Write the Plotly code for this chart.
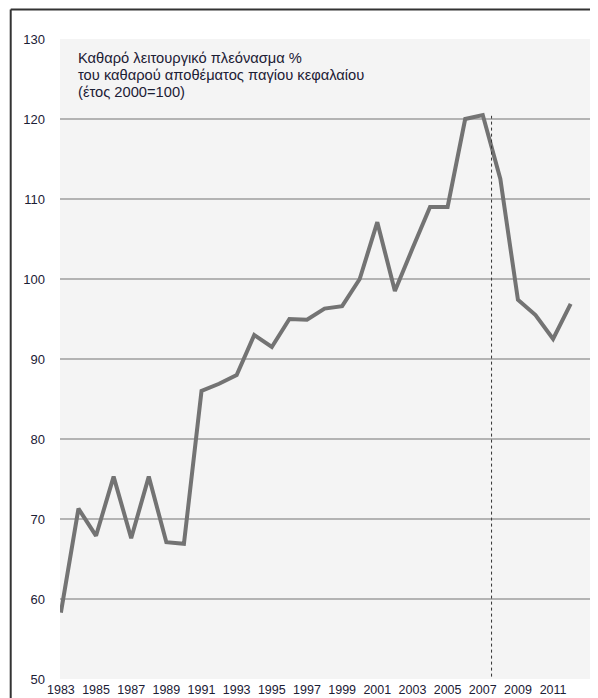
import plotly.graph_objects as go

years = list(range(1983, 2013))
values = [58.3, 71.3, 67.9, 75.3, 67.6, 75.3, 67.1, 66.9, 86.0, 86.9,
          88.0, 93.0, 91.5, 95.0, 94.9, 96.3, 96.6, 100.0, 107.1, 98.5,
          103.8, 109.0, 109.0, 120.0, 120.5, 112.5, 97.4, 95.5, 92.5, 96.9]
tick_years = list(range(1983, 2012, 2))
y_ticks = [50, 60, 70, 80, 90, 100, 110, 120, 130]
marker_year = 2007.5
title_lines = ["Καθαρό λειτουργικό πλεόνασμα %",
               "του καθαρού αποθέματος παγίου κεφαλαίου",
               "(έτος 2000=100)"]

FONT = "Liberation Sans, Arial, Helvetica, sans-serif"
TXT = "#1c2035"

fig = go.Figure()
fig.add_trace(go.Scatter(x=years, y=values, mode="lines",
                         line=dict(color="#737373", width=4),
                         hoverinfo="skip", showlegend=False))

fig.add_shape(type="line", xref="x", yref="y", x0=marker_year, x1=marker_year,
              y0=50.3, y1=120.4, line=dict(color="#333333", width=1, dash="dot"))

# outer frame (top and left borders)
fig.add_shape(type="line", xref="paper", yref="paper", x0=-0.093, x1=1.02,
              y0=1.046, y1=1.046, line=dict(color="#333333", width=2))
fig.add_shape(type="line", xref="paper", yref="paper", x0=-0.093, x1=-0.093,
              y0=1.046, y1=-0.04, line=dict(color="#333333", width=2))

title_y = [0.9698, 0.9438, 0.9177]
for line_text, yy in zip(title_lines, title_y):
    fig.add_annotation(xref="paper", yref="paper", x=0.031, y=yy,
                       xanchor="left", yanchor="middle", align="left",
                       showarrow=False, text=line_text,
                       font=dict(family=FONT, size=14.7, color=TXT))

fig.update_layout(
    width=590, height=690,
    margin=dict(l=52, r=8, t=31, b=19, autoexpand=False),
    paper_bgcolor="white", plot_bgcolor="#f4f4f4",
    font=dict(family=FONT, size=13, color=TXT),
    xaxis=dict(range=[1982.95, 2013.1], tickvals=tick_years,
               ticktext=[str(t) for t in tick_years], showgrid=False,
               zeroline=False, showline=False, ticks="", ticklen=0,
               automargin=False, ticklabelstandoff=1,
               tickfont=dict(size=12.5)),
    yaxis=dict(range=[50, 130], tickvals=y_ticks, showgrid=True,
               gridcolor="#b3b3b3", gridwidth=2, zeroline=False,
               showline=False, ticks="", ticklabelstandoff=14,
               automargin=False, tickfont=dict(size=13)),
)

fig.write_html("out.html")
